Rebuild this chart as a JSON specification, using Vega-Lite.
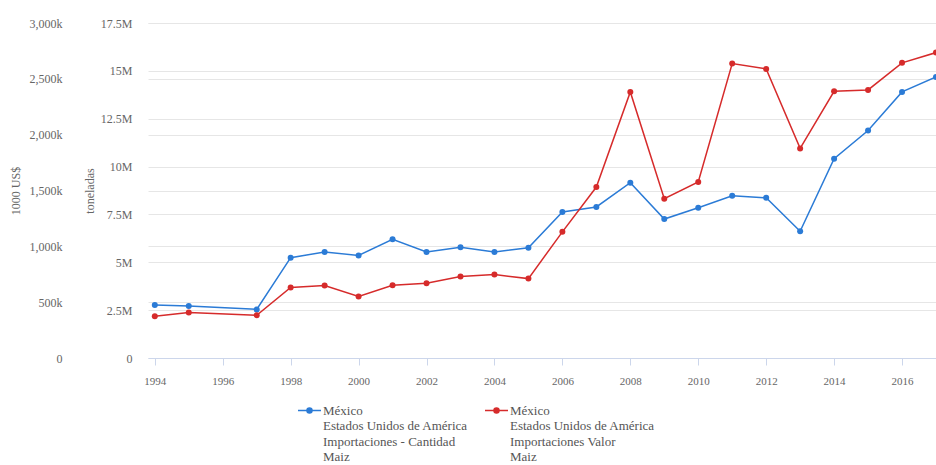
{
  "$schema": "https://vega.github.io/schema/vega-lite/v6.json",
  "width": 788,
  "height": 335,
  "autosize": {"type": "none"},
  "padding": {"left": 148, "top": 23, "right": 0, "bottom": 107},
  "background": "white",
  "config": {
    "view": {"stroke": null},
    "font": "Liberation Serif",
    "axis": {
      "labelFont": "Liberation Serif",
      "titleFont": "Liberation Serif",
      "labelColor": "#666666",
      "titleColor": "#666666",
      "titleFontWeight": "normal",
      "gridColor": "#e6e6e6",
      "gridWidth": 1
    },
    "legend": {"labelFont": "Liberation Serif"}
  },
  "data": {
    "values": [
      {"anio": 1994, "serie": "cantidad", "valor": 2770000},
      {"anio": 1995, "serie": "cantidad", "valor": 2720000},
      {"anio": 1997, "serie": "cantidad", "valor": 2540000},
      {"anio": 1998, "serie": "cantidad", "valor": 5240000},
      {"anio": 1999, "serie": "cantidad", "valor": 5540000},
      {"anio": 2000, "serie": "cantidad", "valor": 5360000},
      {"anio": 2001, "serie": "cantidad", "valor": 6200000},
      {"anio": 2002, "serie": "cantidad", "valor": 5540000},
      {"anio": 2003, "serie": "cantidad", "valor": 5780000},
      {"anio": 2004, "serie": "cantidad", "valor": 5540000},
      {"anio": 2005, "serie": "cantidad", "valor": 5760000},
      {"anio": 2006, "serie": "cantidad", "valor": 7630000},
      {"anio": 2007, "serie": "cantidad", "valor": 7890000},
      {"anio": 2008, "serie": "cantidad", "valor": 9160000},
      {"anio": 2009, "serie": "cantidad", "valor": 7260000},
      {"anio": 2010, "serie": "cantidad", "valor": 7850000},
      {"anio": 2011, "serie": "cantidad", "valor": 8480000},
      {"anio": 2012, "serie": "cantidad", "valor": 8370000},
      {"anio": 2013, "serie": "cantidad", "valor": 6620000},
      {"anio": 2014, "serie": "cantidad", "valor": 10410000},
      {"anio": 2015, "serie": "cantidad", "valor": 11880000},
      {"anio": 2016, "serie": "cantidad", "valor": 13900000},
      {"anio": 2017, "serie": "cantidad", "valor": 14680000},
      {"anio": 1994, "serie": "valor", "valor": 374000},
      {"anio": 1995, "serie": "valor", "valor": 407000},
      {"anio": 1997, "serie": "valor", "valor": 383000},
      {"anio": 1998, "serie": "valor", "valor": 631000},
      {"anio": 1999, "serie": "valor", "valor": 649000},
      {"anio": 2000, "serie": "valor", "valor": 550000},
      {"anio": 2001, "serie": "valor", "valor": 652000},
      {"anio": 2002, "serie": "valor", "valor": 670000},
      {"anio": 2003, "serie": "valor", "valor": 729000},
      {"anio": 2004, "serie": "valor", "valor": 747000},
      {"anio": 2005, "serie": "valor", "valor": 711000},
      {"anio": 2006, "serie": "valor", "valor": 1130000},
      {"anio": 2007, "serie": "valor", "valor": 1531000},
      {"anio": 2008, "serie": "valor", "valor": 2383000},
      {"anio": 2009, "serie": "valor", "valor": 1426000},
      {"anio": 2010, "serie": "valor", "valor": 1576000},
      {"anio": 2011, "serie": "valor", "valor": 2637000},
      {"anio": 2012, "serie": "valor", "valor": 2589000},
      {"anio": 2013, "serie": "valor", "valor": 1877000},
      {"anio": 2014, "serie": "valor", "valor": 2388000},
      {"anio": 2015, "serie": "valor", "valor": 2401000},
      {"anio": 2016, "serie": "valor", "valor": 2643000},
      {"anio": 2017, "serie": "valor", "valor": 2735000}
    ]
  },
  "encoding": {
    "x": {
      "field": "anio",
      "type": "quantitative",
      "scale": {"domain": [1993.8, 2017], "nice": false, "zero": false},
      "axis": {
        "title": null,
        "values": [1994, 1996, 1998, 2000, 2002, 2004, 2006, 2008, 2010, 2012, 2014, 2016],
        "format": "d",
        "grid": false,
        "domainColor": "#ccd6eb",
        "tickColor": "#ccd6eb",
        "tickSize": 7,
        "labelPadding": 10,
        "labelFont": "Liberation Serif",
        "labelFontSize": 11
      }
    },
    "color": {
      "field": "serie",
      "type": "nominal",
      "scale": {"domain": ["cantidad", "valor"], "range": ["#2b7bd6", "#d62b2b"]},
      "legend": {
        "orient": "none",
        "legendX": 149,
        "legendY": 375,
        "direction": "horizontal",
        "columns": 2,
        "title": null,
        "symbolType": "M-1,0L1,0M-0.22,0A0.22,0.22 0 1,0 0.22,0A0.22,0.22 0 1,0 -0.22,0Z",
        "symbolSize": 529,
        "symbolStrokeWidth": 1.5,
        "labelFont": "Liberation Serif",
        "labelFontSize": 13,
        "labelColor": "#555555",
        "labelBaseline": "alphabetic",
        "labelOffset": 1,
        "columnPadding": 14,
        "labelLimit": 300,
        "labelExpr": "datum.label == 'cantidad' ? ['México', 'Estados Unidos de América', 'Importaciones - Cantidad', 'Maiz'] : ['México', 'Estados Unidos de América', 'Importaciones Valor', 'Maiz']",
        "encode": {
          "labels": {"update": {"lineHeight": {"value": 15.5}, "dy": {"value": 4}}}
        }
      }
    }
  },
  "layer": [
    {
      "transform": [{"filter": "datum.serie == 'cantidad'"}],
      "encoding": {
        "y": {
          "field": "valor",
          "type": "quantitative",
          "scale": {"domain": [0, 17500000], "nice": false},
          "axis": {
            "orient": "left",
            "title": "toneladas",
            "titleFont": "Liberation Serif",
            "titleFontSize": 12,
            "titleX": -52,
            "titleBaseline": "bottom",
            "values": [0, 2500000, 5000000, 7500000, 10000000, 12500000, 15000000, 17500000],
            "labelExpr": "datum.value == 0 ? '0' : format(datum.value / 1000000, '~g') + 'M'",
            "labelFont": "Liberation Serif",
            "labelFontSize": 12,
            "labelPadding": 16,
            "ticks": false,
            "domain": false,
            "grid": true
          }
        }
      },
      "layer": [
        {"mark": {"type": "line", "strokeWidth": 1.5}},
        {"mark": {"type": "point", "filled": true, "size": 36, "opacity": 1}}
      ]
    },
    {
      "transform": [{"filter": "datum.serie == 'valor'"}],
      "encoding": {
        "y": {
          "field": "valor",
          "type": "quantitative",
          "scale": {"domain": [0, 3000000], "nice": false},
          "axis": {
            "orient": "left",
            "offset": 76,
            "title": "1000 US$",
            "titleFont": "Liberation Serif",
            "titleFontSize": 12,
            "titleX": -50,
            "titleBaseline": "bottom",
            "values": [0, 500000, 1000000, 1500000, 2000000, 2500000, 3000000],
            "labelExpr": "datum.value == 0 ? '0' : format(datum.value / 1000, ',') + 'k'",
            "labelFont": "Liberation Serif",
            "labelFontSize": 12,
            "labelPadding": 10,
            "ticks": false,
            "domain": false,
            "grid": true
          }
        }
      },
      "layer": [
        {"mark": {"type": "line", "strokeWidth": 1.5}},
        {"mark": {"type": "point", "filled": true, "size": 36, "opacity": 1}}
      ]
    }
  ],
  "resolve": {"scale": {"y": "independent"}}
}
